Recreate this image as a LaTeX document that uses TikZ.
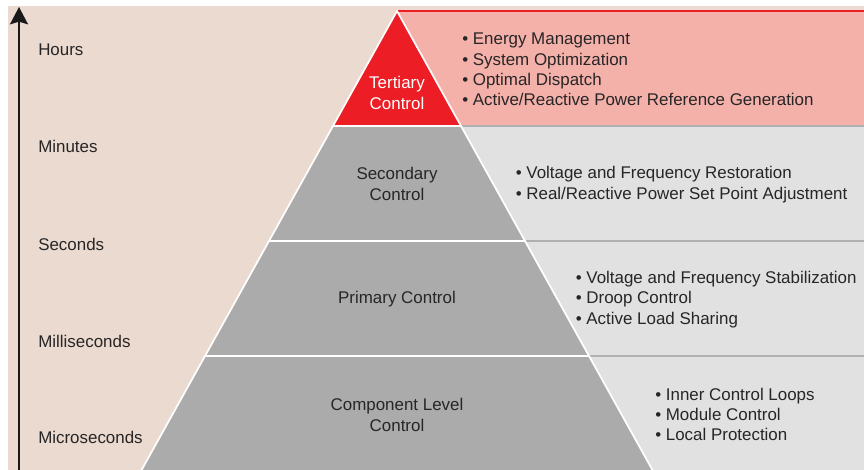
\documentclass[tikz,border=0pt]{standalone}
\usepackage{fontspec}
\setmainfont{Liberation Sans}
\usetikzlibrary{arrows.meta}

\definecolor{sand}{RGB}{234,218,207}
\definecolor{rose}{RGB}{243,177,170}
\definecolor{tred}{RGB}{236,29,37}
\definecolor{pyrgray}{RGB}{171,171,171}
\definecolor{boxgray}{RGB}{225,225,225}
\definecolor{rulegray}{RGB}{176,176,176}
\definecolor{ink}{RGB}{40,37,38}

\begin{document}
\begin{tikzpicture}[x=0.75pt,y=-0.75pt,
	txt/.style={font=\fontsize{12.7}{15.2}\selectfont,text=ink,inner sep=0pt},
	lvl/.style={txt,align=center},
	items/.style={txt,align=left,anchor=west},
	tick/.style={txt,anchor=west},
	band/.style={fill=pyrgray,draw=white,line width=1.3pt,line join=miter}]
			\clip (0,0) rectangle (864,470);
			
			% background and the boxes on the right
			\fill[sand] (8,6) rectangle (864,475);
			\fill[rose] (397,11) rectangle (864,126);
			\fill[boxgray] (397,126) rectangle (864,475);
			\draw[tred,line width=1pt] (397,11) -- (864,11);
			\foreach \y in {126,241,356} \draw[rulegray,line width=1.5pt] (397,\y) -- (864,\y);
			
			% pyramid, one band per level
			\filldraw[band] (205,356) -- (589,356) -- (658,480) -- (136,480) -- cycle;
			\filldraw[band] (269,241) -- (525,241) -- (589,356) -- (205,356) -- cycle;
			\filldraw[band] (333,126) -- (461,126) -- (525,241) -- (269,241) -- cycle;
			\filldraw[band,fill=tred] (397,11) -- (461,126) -- (333,126) -- cycle;
			
			\node[lvl,text=white] (tert) at (397,93) {Tertiary\\Control};
			\node[lvl] (sec) at (397,184) {Secondary\\Control};
			\node[lvl] (prim) at (397,299.5) {Primary Control};
			\node[lvl] (comp) at (397,415) {Component Level\\Control};
			
			\node[items] (tertlist) at (462,69.5) {• Energy Management\\• System Optimization\\• Optimal Dispatch\\• Active/Reactive Power Reference Generation};
			\node[items] (seclist) at (515.5,184.5) {• Voltage and Frequency Restoration\\• Real/Reactive Power Set Point Adjustment};
			\node[items] (primlist) at (575.5,299.5) {• Voltage and Frequency Stabilization\\• Droop Control\\• Active Load Sharing};
			\node[items] (complist) at (655,414.5) {• Inner Control Loops\\• Module Control\\• Local Protection};
			
			% time axis
			\coordinate (t0) at (19,472);
			\coordinate (t1) at (19,7);
			\draw[-{Stealth[length=13pt,width=13.5pt,inset=2pt]},line width=1.5pt,black!90] (t0) -- (t1);
			\node[tick] (hrs) at (38,50) {Hours};
			\node[tick] (mins) at (38,146) {Minutes};
			\node[tick] (secs) at (38,244) {Seconds};
			\node[tick] (msecs) at (38,341) {Milliseconds};
			\node[tick] (usecs) at (38,437) {Microseconds};
\end{tikzpicture}
\end{document}
